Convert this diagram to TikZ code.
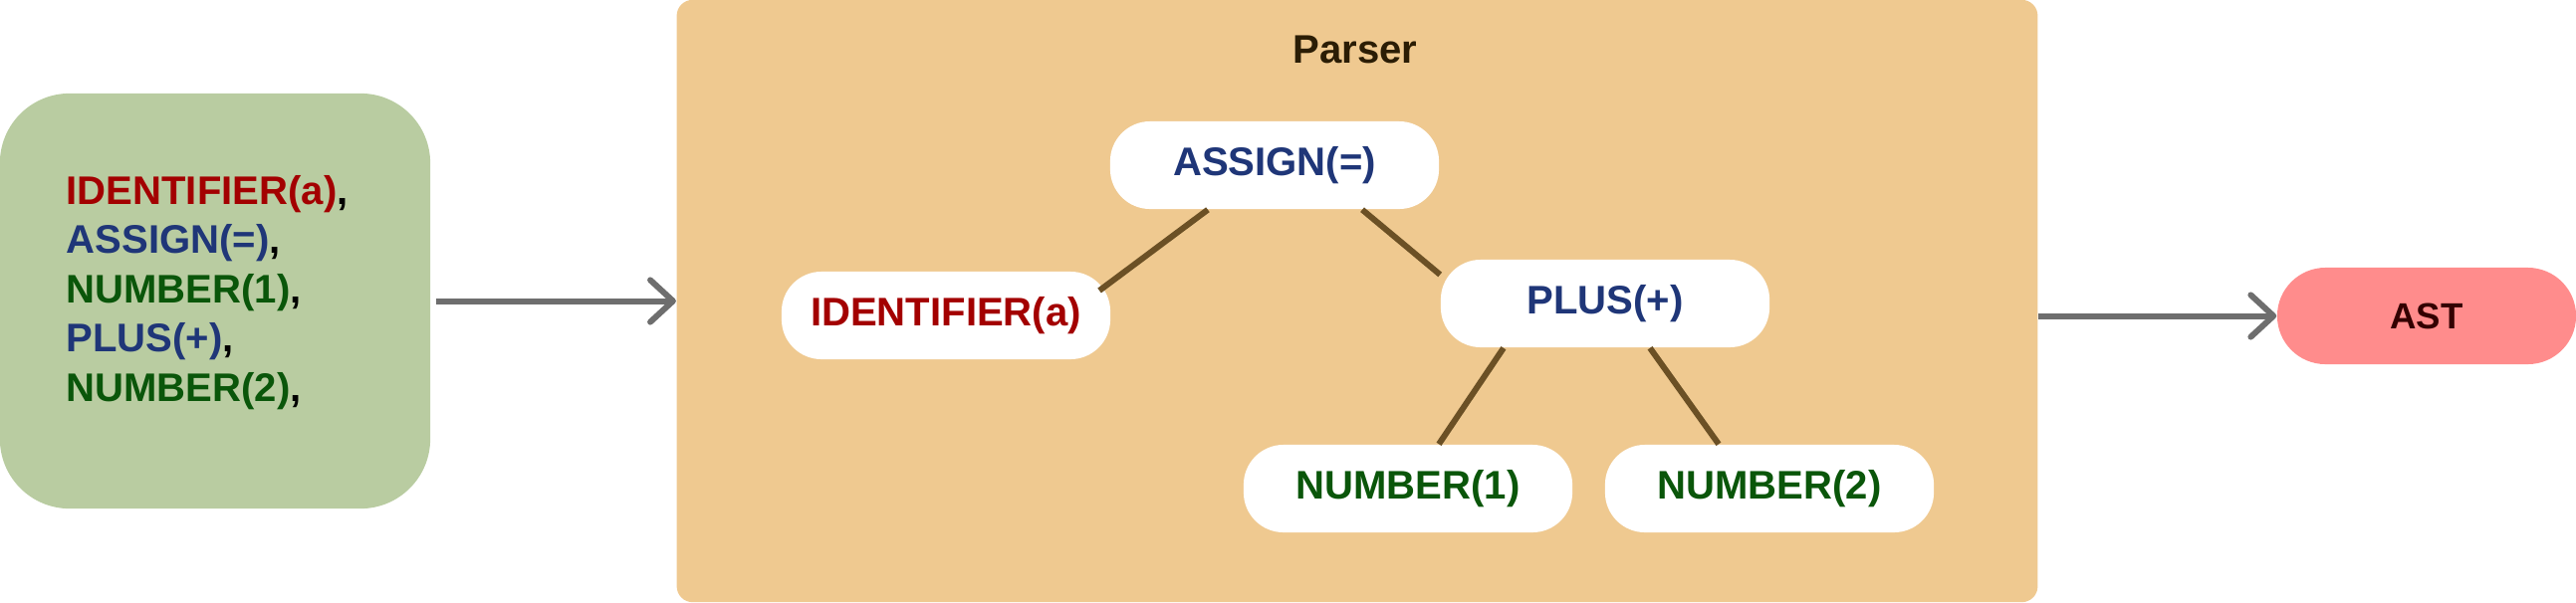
\documentclass[tikz,border=0pt]{standalone}
\usepackage{fontspec}
\setmainfont{Liberation Sans}
\usetikzlibrary{arrows.meta,calc}
\definecolor{tokbg}{RGB}{185,204,161}
\definecolor{parserbg}{RGB}{239,201,144}
\definecolor{redt}{RGB}{163,0,0}
\definecolor{bluet}{RGB}{31,54,120}
\definecolor{greent}{RGB}{10,86,10}
\definecolor{parsert}{RGB}{43,29,5}
\definecolor{edgec}{RGB}{107,80,37}
\definecolor{arrowc}{RGB}{110,110,110}
\definecolor{astbg}{RGB}{255,140,140}
\definecolor{astt}{RGB}{51,0,0}
\begin{document}
\begin{tikzpicture}[x=0.01cm,y=-0.01cm,
  txt/.style={font=\bfseries\fontsize{11.4}{14.1}\selectfont},
  treenode/.style={txt, fill=white, rounded corners=0.4cm, minimum width=3.3cm, minimum height=0.88cm, inner sep=0pt},
  edge/.style={draw=edgec, line width=1.7pt},
  flow/.style={draw=arrowc, line width=1.7pt, -{Straight Barb[length=6.5pt,width=12pt,line cap=round,line join=round]}}]
\useasboundingbox (0,0) rectangle (2587,605);
% token box
\node[fill=tokbg, rounded corners=0.7cm, minimum width=4.32cm, minimum height=4.17cm, inner sep=0pt] (tokens) at (216,302.5) {};
\node[txt, anchor=west, align=left, inner sep=0pt] (toklist) at (66,294)
  {{\color{redt}IDENTIFIER(a)},\\
   {\color{bluet}ASSIGN(=)},\\
   {\color{greent}NUMBER(1)},\\
   {\color{bluet}PLUS(+)},\\
   {\color{greent}NUMBER(2)},};
% parser box
\node[fill=parserbg, rounded corners=0.16cm, minimum width=13.66cm, minimum height=6.05cm, inner sep=0pt] (parser) at (1363,302.5) {};
\node[txt, text=parsert, inner sep=0pt] (plabel) at (1361,50) {Parser};
% tree
\node[treenode, text=bluet] (assign) at (1280,166) {ASSIGN(=)};
\node[treenode, text=redt] (ident) at (950,317) {IDENTIFIER(a)};
\node[treenode, text=bluet] (plus) at (1612,305) {PLUS(+)};
\node[treenode, text=greent] (num1) at (1414,491) {NUMBER(1)};
\node[treenode, text=greent] (num2) at (1777,491) {NUMBER(2)};
\draw[edge] ([xshift=-0.67cm]assign.south) -- ([xshift=1.54cm,yshift=0.25cm]ident.center);
\draw[edge] ([xshift=0.88cm]assign.south) -- ([yshift=0.29cm]plus.west);
\draw[edge] ([xshift=-1.02cm]plus.south) -- ([xshift=0.31cm]num1.north);
\draw[edge] ([xshift=0.45cm]plus.south) -- ([xshift=-0.51cm]num2.north);
% AST
\node[fill=astbg, rounded corners=0.485cm, minimum width=3cm, minimum height=0.97cm, inner sep=0pt, text=astt, font=\bfseries\fontsize{10.4}{12}\selectfont] (ast) at (2437,317.5) {AST};
% arrows
\draw[flow] ([xshift=0.05cm]tokens.east) -- (parser.west);
\draw[flow] (parser.east |- ast.west) -- (ast.west);
\end{tikzpicture}
\end{document}
